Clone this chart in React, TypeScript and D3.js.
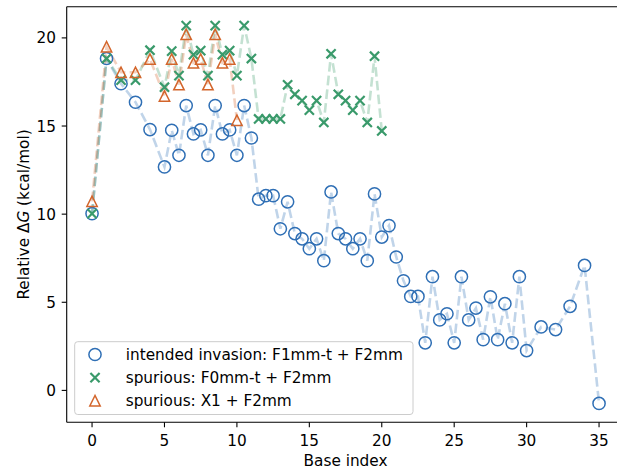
import React from "react";
import * as d3 from "d3";

const W = 617;
const H = 472;

const intendedX = [0, 1, 2, 3, 4, 5, 5.5, 6, 6.5, 7, 7.5, 8, 8.5, 9, 9.5, 10, 10.5, 11, 11.5, 12, 12.5, 13, 13.5, 14, 14.5, 15, 15.5, 16, 16.5, 17, 17.5, 18, 18.5, 19, 19.5, 20, 20.5, 21, 21.5, 22, 22.5, 23, 23.5, 24, 24.5, 25, 25.5, 26, 26.5, 27, 27.5, 28, 28.5, 29, 29.5, 30, 31, 32, 33, 34, 35];
const intendedY = [10.03, 18.83, 17.4, 16.35, 14.8, 12.68, 14.76, 13.34, 16.16, 14.55, 14.78, 13.34, 16.16, 14.55, 14.78, 13.34, 16.16, 14.32, 10.85, 11.05, 11.05, 9.17, 10.7, 8.9, 8.6, 8.04, 8.6, 7.36, 11.26, 8.9, 8.6, 8.04, 8.6, 7.36, 11.15, 8.7, 9.35, 7.57, 6.22, 5.33, 5.33, 2.7, 6.45, 4.0, 4.35, 2.7, 6.45, 4.0, 4.67, 2.88, 5.31, 2.88, 4.92, 2.7, 6.45, 2.26, 3.6, 3.45, 4.77, 7.09, -0.74];

const f0X = [0, 1, 2, 3, 4, 5, 5.5, 6, 6.5, 7, 7.5, 8, 8.5, 9, 9.5, 10, 10.5, 11, 11.5, 12, 12.5, 13, 13.5, 14, 14.5, 15, 15.5, 16, 16.5, 17, 17.5, 18, 18.5, 19, 19.5, 20];
const f0Y = [10.03, 18.83, 17.6, 17.6, 19.3, 17.2, 19.25, 17.86, 20.7, 19.05, 19.28, 17.86, 20.7, 19.05, 19.28, 17.86, 20.7, 18.83, 15.4, 15.4, 15.4, 15.4, 17.34, 16.8, 16.44, 15.9, 16.44, 15.2, 19.1, 16.8, 16.44, 15.9, 16.44, 15.2, 18.96, 14.72];

const x1X = [0, 1, 2, 3, 4, 5, 5.5, 6, 6.5, 7, 7.5, 8, 8.5, 9, 9.5, 10];
const x1Y = [10.73, 19.5, 18.05, 18.05, 18.8, 16.7, 18.8, 17.35, 20.2, 18.58, 18.8, 17.35, 20.2, 18.58, 18.8, 15.33];

const xTicks = [0, 5, 10, 15, 20, 25, 30, 35];
const yTicks = [0, 5, 10, 15, 20];

const legendLabels = [
  "intended invasion: F1mm-t + F2mm",
  "spurious: F0mm-t + F2mm",
  "spurious: X1 + F2mm",
];

const BLUE = "#2f6fb5";
const GREEN = "#3a9a6b";
const ORANGE = "#d3652b";

const FONT = "DejaVu Sans, sans-serif";
const FS = 15.3;

const left = 66.7;
const right = 624.4;
const top = 6.7;
const bottom = 422.3;

type Kind = "circle" | "x" | "tri";

function Marker({ kind, cx, cy, color }: { kind: Kind; cx: number; cy: number; color: string }) {
  if (kind === "circle") {
    return <circle cx={cx} cy={cy} r={6.1} fill="none" stroke={color} strokeWidth={1.5} />;
  }
  if (kind === "x") {
    const s = 4.6;
    return (
      <path
        d={`M${cx - s},${cy - s}L${cx + s},${cy + s}M${cx - s},${cy + s}L${cx + s},${cy - s}`}
        stroke={color}
        strokeWidth={2.2}
        fill="none"
      />
    );
  }
  const h = 5.2;
  return (
    <path
      d={`M${cx},${cy - h}L${cx - h},${cy + h}L${cx + h},${cy + h}Z`}
      fill="none"
      stroke={color}
      strokeWidth={1.5}
      strokeLinejoin="miter"
    />
  );
}

export default function App() {
  const x = d3.scaleLinear().domain([-1.75, 36.75]).range([left, right]);
  const y = d3.scaleLinear().domain([-1.81, 21.77]).range([bottom, top]);

  const series = [
    { xs: intendedX, ys: intendedY, color: BLUE, kind: "circle" as Kind },
    { xs: f0X, ys: f0Y, color: GREEN, kind: "x" as Kind },
    { xs: x1X, ys: x1Y, color: ORANGE, kind: "tri" as Kind },
  ];

  const line = d3
    .line<[number, number]>()
    .x((d) => x(d[0]))
    .y((d) => y(d[1]));

  const legendX = 74.7;
  const legendY = 341.7;
  const legendW = 413 - 74.7;
  const legendH = 414.5 - 341.7;
  const rowYs = [354.5, 377.6, 400.7];

  return (
    <svg
      width={W}
      height={H}
      style={{ position: "absolute", left: 0, top: 0, background: "#fff" }}
      fontFamily={FONT}
    >
      <rect x={0} y={0} width={W} height={H} fill="#fff" />
      <defs>
        <clipPath id="plotclip">
          <rect x={left} y={top} width={right - left} height={bottom - top} />
        </clipPath>
      </defs>

      <g clipPath="url(#plotclip)">
        {series.map((s, i) => (
          <path
            key={"l" + i}
            d={line(s.xs.map((v, j) => [v, s.ys[j]] as [number, number])) || ""}
            fill="none"
            stroke={s.color}
            strokeOpacity={0.3}
            strokeWidth={2.6}
            strokeDasharray="9.6,4.2"
          />
        ))}
        {series.map((s, i) => (
          <g key={"m" + i}>
            {s.xs.map((v, j) => (
              <Marker key={j} kind={s.kind} cx={x(v)} cy={y(s.ys[j])} color={s.color} />
            ))}
          </g>
        ))}
      </g>

      {/* spines */}
      <line x1={left} x2={left} y1={top} y2={bottom} stroke="#000" strokeWidth={1.1} />
      <line x1={left} x2={right} y1={bottom} y2={bottom} stroke="#000" strokeWidth={1.1} />
      <line x1={left} x2={right} y1={top} y2={top} stroke="#000" strokeWidth={1.1} />
      <line x1={right} x2={right} y1={top} y2={bottom} stroke="#000" strokeWidth={1.1} />

      {/* x ticks */}
      {xTicks.map((t) => (
        <g key={"xt" + t}>
          <line x1={x(t)} x2={x(t)} y1={bottom} y2={bottom + 5} stroke="#000" strokeWidth={1.1} />
          <text x={x(t)} y={446} textAnchor="middle" fontSize={FS} fill="#000">
            {t}
          </text>
        </g>
      ))}
      {/* y ticks */}
      {yTicks.map((t) => (
        <g key={"yt" + t}>
          <line x1={left - 5} x2={left} y1={y(t)} y2={y(t)} stroke="#000" strokeWidth={1.1} />
          <text x={56} y={y(t) + 5.5} textAnchor="end" fontSize={FS} fill="#000">
            {t}
          </text>
        </g>
      ))}

      <text x={(left + right) / 2} y={466} textAnchor="middle" fontSize={FS} fill="#000">
        Base index
      </text>
      <text
        transform={`translate(29,${(top + bottom) / 2}) rotate(-90)`}
        textAnchor="middle"
        fontSize={FS}
        fill="#000"
      >
        Relative Δ<tspan fontStyle="italic">G</tspan> (kcal/mol)
      </text>

      {/* legend */}
      <rect
        x={legendX}
        y={legendY}
        width={legendW}
        height={legendH}
        rx={3}
        ry={3}
        fill="#fff"
        fillOpacity={0.8}
        stroke="#cccccc"
        strokeWidth={1}
      />
      {series.map((s, i) => (
        <g key={"lg" + i}>
          <Marker kind={s.kind} cx={95} cy={rowYs[i]} color={s.color} />
          <text x={125.7} y={rowYs[i] + 5.5} fontSize={FS} fill="#000">
            {legendLabels[i]}
          </text>
        </g>
      ))}
    </svg>
  );
}
